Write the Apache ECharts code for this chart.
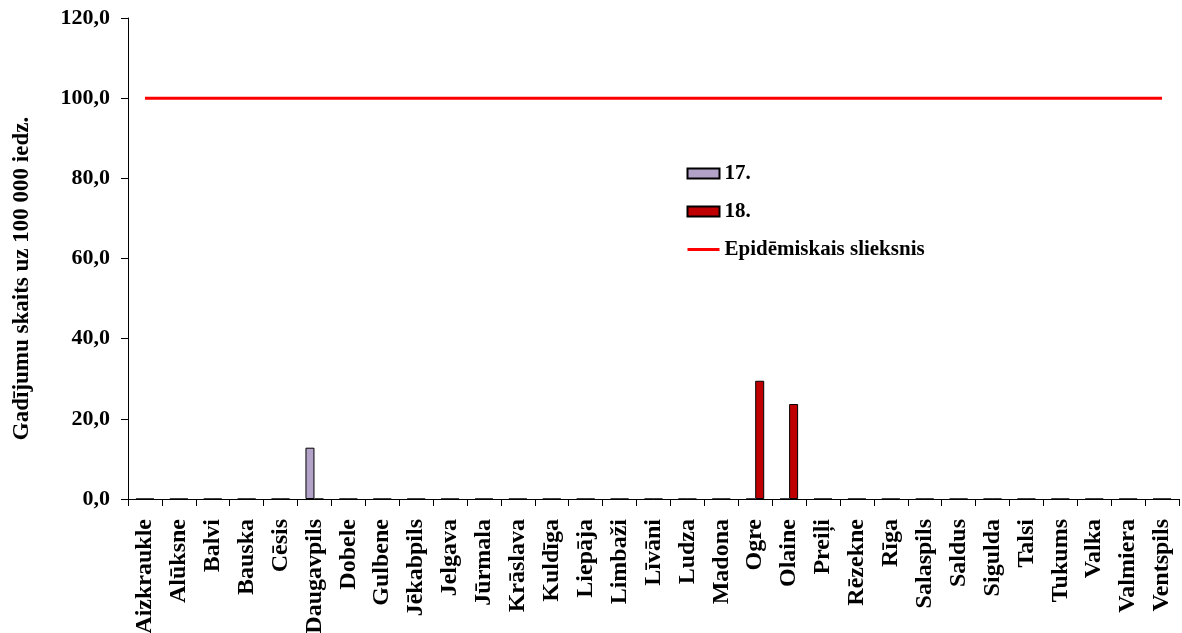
<!DOCTYPE html>
<html><head><meta charset="utf-8">
<script src="https://cdn.jsdelivr.net/npm/echarts@6/dist/echarts.min.js"></script>
<style>html,body{margin:0;padding:0;background:#fff}#c{width:1182px;height:633px}</style>
</head><body><div id="c"></div>
<script>
const categories = ['Aizkraukle','Alūksne','Balvi','Bauska','Cēsis','Daugavpils','Dobele','Gulbene','Jēkabpils','Jelgava','Jūrmala','Krāslava','Kuldīga','Liepāja','Limbaži','Līvāni','Ludza','Madona','Ogre','Olaine','Preiļi','Rēzekne','Rīga','Salaspils','Saldus','Sigulda','Talsi','Tukums','Valka','Valmiera','Ventspils'];
const week17 = [0,0,0,0,0,12.8,0,0,0,0,0,0,0,0,0,0,0,0,0,0,0,0,0,0,0,0,0,0,0,0,0];
const week18 = [0,0,0,0,0,0,0,0,0,0,0,0,0,0,0,0,0,0,29.5,23.7,0,0,0,0,0,0,0,0,0,0,0];
const threshold = [100,100,100,100,100,100,100,100,100,100,100,100,100,100,100,100,100,100,100,100,100,100,100,100,100,100,100,100,100,100,100];
const seriesNames = ['17.','18.','Epidēmiskais slieksnis'];
const yTicks = {min:0, max:120, interval:20};
const yName = 'Gadījumu skaits uz 100 000 iedz.';

const font = 'Liberation Serif';
const chart = echarts.init(document.getElementById('c'));
chart.setOption({
  animation:false,
  textStyle:{fontFamily:font},
  grid:{left:128,right:3,top:18,bottom:134,containLabel:false,outerBoundsMode:'none'},
  legend:{
    orient:'vertical', left:681, top:158, padding:5, itemGap:17, itemWidth:32, itemHeight:10,
    textStyle:{fontFamily:font,fontWeight:'bold',fontSize:21,color:'#000'},
    data:[
      {name:seriesNames[0],icon:'rect'},
      {name:seriesNames[1],icon:'rect'},
      {name:seriesNames[2],itemStyle:{color:'rgba(0,0,0,0)',borderColor:'rgba(0,0,0,0)',borderWidth:0},lineStyle:{color:'#ff0000',width:3}}
    ]
  },
  xAxis:{
    type:'category', data:categories,
    axisLine:{lineStyle:{color:'#000',width:1}},
    axisTick:{show:true,length:7,lineStyle:{color:'#000'}},
    axisLabel:{rotate:90,interval:0,margin:20,color:'#000',fontFamily:font,fontWeight:'bold',fontSize:24}
  },
  yAxis:{
    type:'value', min:yTicks.min, max:yTicks.max, interval:yTicks.interval,
    name:yName, nameLocation:'middle', nameGap:94, nameRotate:90,
    nameTextStyle:{fontFamily:font,fontWeight:'bold',fontSize:23,color:'#000',padding:[0,40,0,0]},
    axisLine:{show:true,lineStyle:{color:'#000',width:1}},
    axisTick:{show:true,length:7,lineStyle:{color:'#000'}},
    splitLine:{show:false},
    axisLabel:{margin:18,color:'#000',fontFamily:font,fontWeight:'bold',fontSize:22,
      formatter:v=>v.toFixed(1).replace('.',',')}
  },
  series:[
    {name:seriesNames[0],type:'bar',data:week17,barWidth:9,barGap:'0%',
     itemStyle:{color:'#b3a2c7',borderColor:'#000',borderWidth:1}},
    {name:seriesNames[1],type:'bar',data:week18,barWidth:9,barGap:'0%',
     itemStyle:{color:'#c00000',borderColor:'#000',borderWidth:1}},
    {name:seriesNames[2],type:'line',data:threshold,symbol:'none',
     lineStyle:{color:'#ff0000',width:3},itemStyle:{color:'#ff0000'}}
  ]
});
</script></body></html>
